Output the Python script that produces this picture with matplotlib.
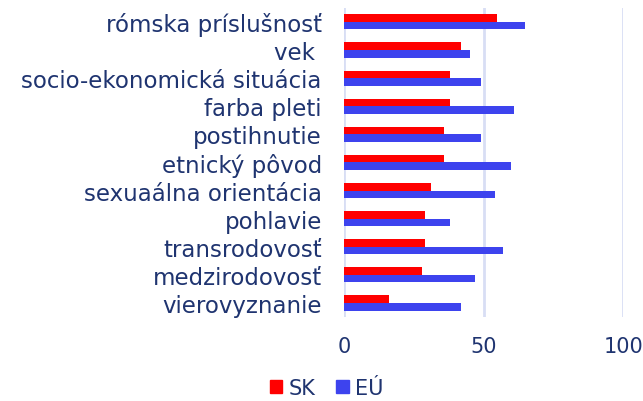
import matplotlib
matplotlib.use("Agg")
import matplotlib.pyplot as plt
import numpy as np
from matplotlib.patches import Patch

categories = ["rómska príslušnosť", "vek ", "socio-ekonomická situácia", "farba pleti",
              "postihnutie", "etnický pôvod", "sexuaálna orientácia", "pohlavie",
              "transrodovosť", "medzirodovosť", "vierovyznanie"]
sk = [55, 42, 38, 38, 36, 36, 31, 29, 29, 28, 16]
eu = [65, 45, 49, 61, 49, 60, 54, 38, 57, 47, 42]
xticks = [0, 50, 100]
series_names = ["SK", "EÚ"]

text_color = "#1F3470"
red = "#FF0000"
blue = "#3D43EE"
grid_color = "#D8DEF4"

plt.rcParams['font.family'] = ['DejaVu Sans']

fig = plt.figure(figsize=(6.43, 4.02), dpi=100)
ax = fig.add_axes([0.535, 0.209, 0.434, 0.769])

n = len(categories)
y = np.arange(n)
h = 0.27
ax.barh(y - h / 2, sk, height=h, color=red, zorder=3)
ax.barh(y + h / 2, eu, height=h, color=blue, zorder=3)

ax.set_ylim(n - 0.5, -0.5)
ax.set_xlim(0, 100)
ax.set_xticks(xticks)
ax.set_xticklabels([str(t) for t in xticks], fontsize=15, color=text_color)
ax.set_yticks(y)
ax.set_yticklabels(categories, fontsize=16.5, color=text_color)
ax.tick_params(axis='both', length=0)
ax.tick_params(axis='x', pad=14)
ax.tick_params(axis='y', pad=16)
for s in ax.spines.values():
    s.set_visible(False)
ax.grid(axis='x', color=grid_color, linewidth=2, zorder=0)
ax.set_axisbelow(True)

handles = [Patch(color=red, label=series_names[0]), Patch(color=blue, label=series_names[1])]
leg = fig.legend(handles=handles, loc='center', bbox_to_anchor=(0.508, 0.033), ncol=2,
                 frameon=False, fontsize=15, handlelength=0.6, handleheight=0.6,
                 handletextpad=0.3, columnspacing=1.0, borderpad=0.0)
for t in leg.get_texts():
    t.set_color(text_color)

fig.savefig("out.png", dpi=100)
